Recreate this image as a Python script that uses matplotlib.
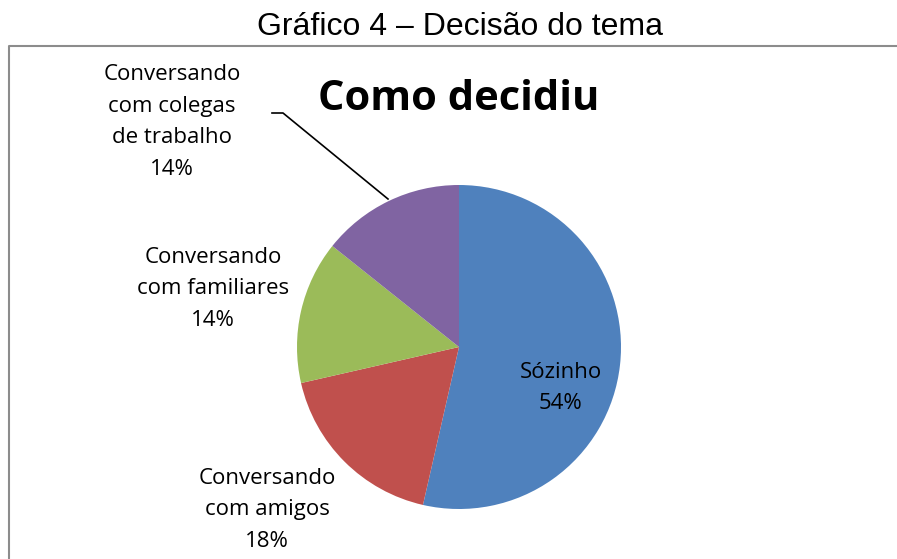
import matplotlib.pyplot as plt
from matplotlib.lines import Line2D

categories = ["Sózinho", "Conversando\ncom amigos", "Conversando\ncom familiares",
              "Conversando\ncom colegas\nde trabalho"]
counts = [15, 5, 4, 4]
colors = ["#4F81BD", "#C0504D", "#9BBB59", "#8064A2"]

W, H = 897, 559
fig = plt.figure(figsize=(W / 100, H / 100), dpi=100)
ax = fig.add_axes([0, 0, 1, 1])

cx, cy, r = 459, H - 347, 162
ax.pie(counts, colors=colors, startangle=90, counterclock=False,
       center=(cx, cy), radius=r, wedgeprops=dict(linewidth=0),
       frame=True)
ax.set_xlim(0, W)
ax.set_ylim(0, H)
ax.set_aspect("equal")
ax.axis("off")

# chart frame
ax.add_line(Line2D([8.5, 8.5, W], [0, H - 46, H - 46], color="#8c8c8c", lw=1.5))

total = sum(counts)
pcts = [f"{round(100 * c / total)}%" for c in counts]
label_pos = [(561, 388), (267, 510), (213, 289), (172, 122)]
for cat, p, (x, y) in zip(categories, pcts, label_pos):
    ax.text(x, H - y, f"{cat}\n{p}", ha="center", va="center", fontsize=16,
            family="Open Sans", linespacing=1.66)

# leader line for the colegas label
ax.add_line(Line2D([272, 283, 388], [H - 113, H - 113, H - 199], color="black", lw=1.2))

ax.text(459, H - 100, "Como decidiu", ha="center", va="center", fontsize=30,
        fontweight="bold", family="Open Sans")
fig.text(460 / W, 1 - 27 / H, "Gráfico 4 – Decisão do tema", ha="center", va="center",
         fontsize=23, family="Liberation Sans")

fig.savefig("out.png", dpi=100)
